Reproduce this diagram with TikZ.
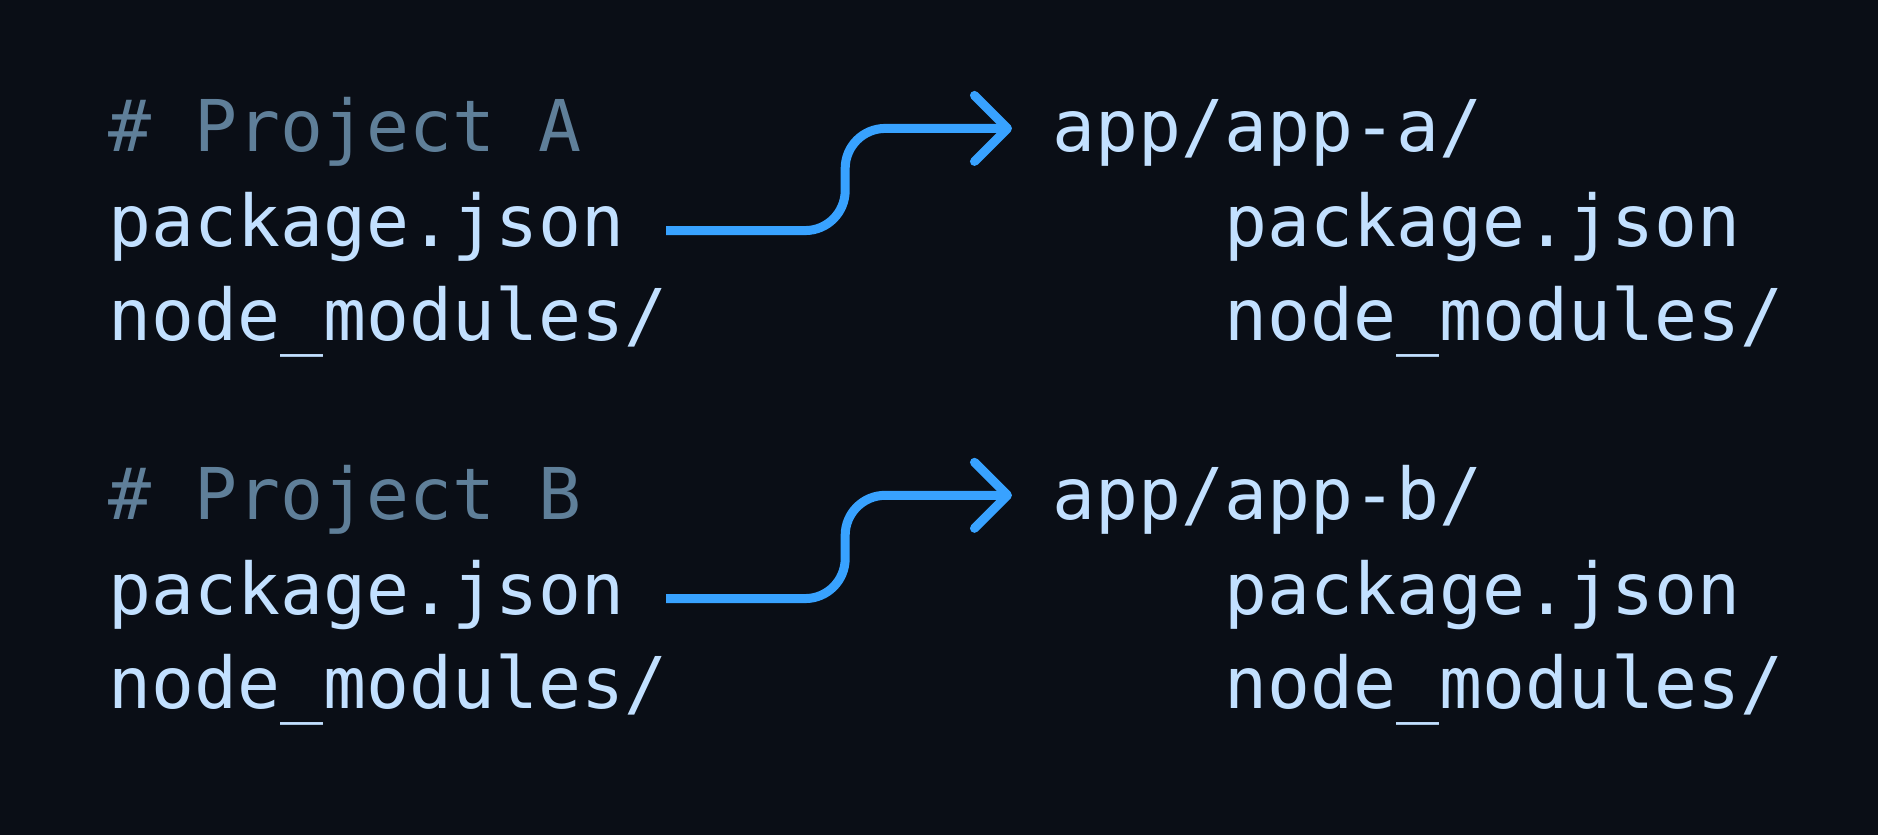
\documentclass[tikz,border=0pt]{standalone}
\usepackage{fontspec}
\setmonofont{DejaVu Sans Mono}
\usetikzlibrary{arrows.meta,positioning}
\definecolor{bgdark}{HTML}{0A0E16}
\definecolor{filetxt}{HTML}{C2E0FF}
\definecolor{commenttxt}{HTML}{5F7F99}
\definecolor{flowblue}{HTML}{38A2FF}

\begin{document}
\begin{tikzpicture}[
    x=0.01cm, y=-0.01cm,
    code/.style={inner sep=0, anchor=base west, text=filetxt,
        font=\fontsize{20.3}{24}\selectfont\ttfamily},
    comment/.style={code, text=commenttxt},
    flow/.style={draw=flowblue, line width=0.09cm, rounded corners=0.4cm,
        -{Straight Barb[length=0.33cm, width=0.66cm, round]}}]
\fill[bgdark] (0,0) rectangle (1878,835);
\useasboundingbox (0,0) rectangle (1878,835);

% project A
\node[comment] (hdrA)  at (108,151) {\# Project A};
\node[code]    (pkgA)  at (108,246) {package.json};
\node[code]    (modA)  at (108,340) {node\_modules/};
\node[code]    (appA)  at (1052,151) {app/app-a/};
\node[code]    (apkgA) at (1224,246) {package.json};
\node[code]    (amodA) at (1224,340) {node\_modules/};

% project B
\node[comment] (hdrB)  at (108,519) {\# Project B};
\node[code]    (pkgB)  at (108,614) {package.json};
\node[code]    (modB)  at (108,708) {node\_modules/};
\node[code]    (appB)  at (1052,519) {app/app-b/};
\node[code]    (apkgB) at (1224,614) {package.json};
\node[code]    (amodB) at (1224,708) {node\_modules/};

\draw[flow] ([xshift=0.41cm, yshift=-0.04cm]pkgA.east) -- ++(179,0) |- ([xshift=-0.40cm, yshift=0.04cm]appA.west);
\draw[flow] ([xshift=0.41cm, yshift=-0.04cm]pkgB.east) -- ++(179,0) |- ([xshift=-0.40cm, yshift=0.04cm]appB.west);

\end{tikzpicture}
\end{document}
